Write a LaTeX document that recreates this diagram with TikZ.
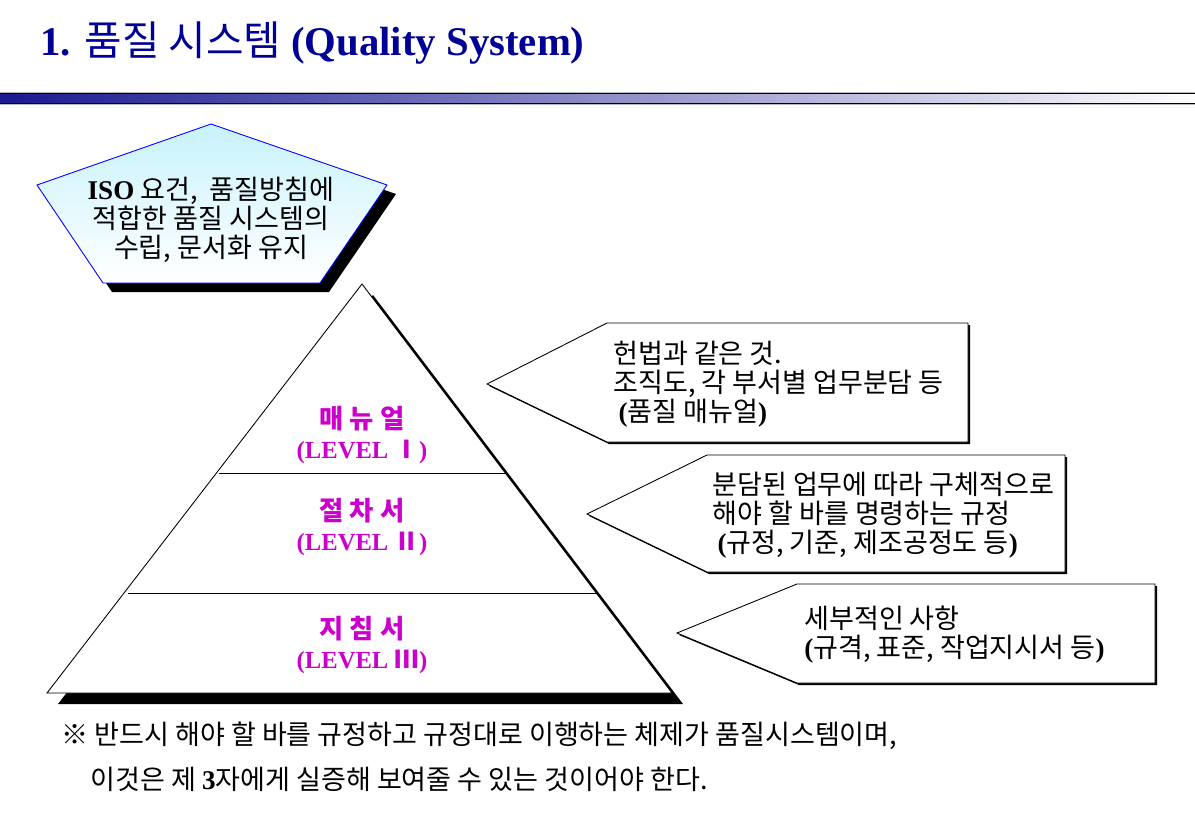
\documentclass[tikz,border=0pt]{standalone}
\usepackage{fontspec}
\setmainfont{Liberation Serif}
\newfontfamily\kr{Noto Sans CJK KR}
\definecolor{titleblue}{RGB}{0,0,150}
\definecolor{barblue}{RGB}{26,26,145}
\definecolor{levelpink}{RGB}{204,0,204}
\definecolor{pentacyan}{RGB}{200,242,252}

\begin{document}
\begin{tikzpicture}[x=0.02cm,y=-0.02cm,
  body/.style={inner sep=0pt,align=left,font=\kr\fontsize{15.4}{16.5}\selectfont},
  level/.style={inner sep=0pt,align=center,text=levelpink,font=\fontsize{14}{17}\selectfont\bfseries},
  callout/.style={draw,fill=white,line width=0.5pt}]
\useasboundingbox (0,0) rectangle (1195,818);

% title and bar
\node[inner sep=0pt,anchor=west,text=titleblue,font=\fontsize{23.2}{26}\selectfont\bfseries] (title) at (40,43)
  {1. {\kr\mdseries 품질 시스템} (Quality System)};
\fill[gray!55] (0,92) rectangle (1195,105);
\fill[black] (0,93) rectangle (1195,104);
\shade[left color=barblue,right color=white] (0,94.8) rectangle (1195,102.2);

% pentagon
\fill[black] (220,133) -- (396,194) -- (329,292) -- (112,292) -- (46,194) -- cycle;
\shade[top color=pentacyan,bottom color=white] (211,124) -- (387,185) -- (320,283) -- (103,283) -- (37,185) -- cycle;
\draw[blue,line width=0.5pt] (211,124) -- (387,185) -- (320,283) -- (103,283) -- (37,185) -- cycle;
\node[body,align=center] (goal) at (211,220)
  {{\fontspec{Liberation Serif}\bfseries ISO} 요건,~ 품질방침에\\적합한 품질 시스템의\\수립, 문서화 유지};

% pyramid
\fill[black] (373,295) -- (683,704) -- (58,704) -- cycle;
\filldraw[fill=white,draw=black,line width=0.5pt] (362,284) -- (672,693) -- (47,693) -- cycle;
\draw[line width=0.5pt] (219,473) -- (505,473);
\draw[line width=0.5pt] (128,593) -- (596,593);
\node[level] (lv1) at (362,435) {{\kr\fontsize{15}{17}\selectfont 매 뉴 얼}\\(LEVEL {\kr Ⅰ})};
\node[level] (lv2) at (362,527) {{\kr\fontsize{15}{17}\selectfont 절 차 서}\\(LEVEL {\kr Ⅱ})};
\node[level] (lv3) at (362,645) {{\kr\fontsize{15}{17}\selectfont 지 침 서}\\(LEVEL {\kr Ⅲ})};

% callouts
\fill[black] (489,386) -- (609,325) -- (970,325) -- (970,444) -- (609,444) -- cycle;
\draw[callout] (487,384) -- (607,323) -- (968,323) -- (968,442) -- (607,442) -- cycle;
\node[body,anchor=west] (c1) at (613,384)
  {헌법과 같은 것.\\조직도, 각 부서별 업무분담 등\\\hspace{3pt}{\rmfamily\bfseries(}품질 매뉴얼{\rmfamily\bfseries)}};

\fill[black] (589,516) -- (709,457) -- (1067,457) -- (1067,574) -- (709,574) -- cycle;
\draw[callout] (587,514) -- (707,455) -- (1065,455) -- (1065,572) -- (707,572) -- cycle;
\node[body,anchor=west] (c2) at (712,515)
  {분담된 업무에 따라 구체적으로\\해야 할 바를 명령하는 규정\\\hspace{3pt}{\rmfamily\bfseries(}규정, 기준, 제조공정도 등{\rmfamily\bfseries)}};

\fill[black] (679,635) -- (799,586) -- (1157,586) -- (1157,685) -- (799,685) -- cycle;
\draw[callout] (677,633) -- (797,584) -- (1155,584) -- (1155,683) -- (797,683) -- cycle;
\node[body,anchor=west] (c3) at (804,635)
  {세부적인 사항\\{\rmfamily\bfseries(}규격, 표준, 작업지시서 등{\rmfamily\bfseries)}};

% note
\node[body,anchor=west] (note1) at (61,736)
  {※ 반드시 해야 할 바를 규정하고 규정대로 이행하는 체제가 품질시스템이며,};
\node[body,anchor=west] (note2) at (90,779)
  {이것은 제 {\rmfamily\bfseries 3}자에게 실증해 보여줄 수 있는 것이어야 한다.};
\end{tikzpicture}
\end{document}
